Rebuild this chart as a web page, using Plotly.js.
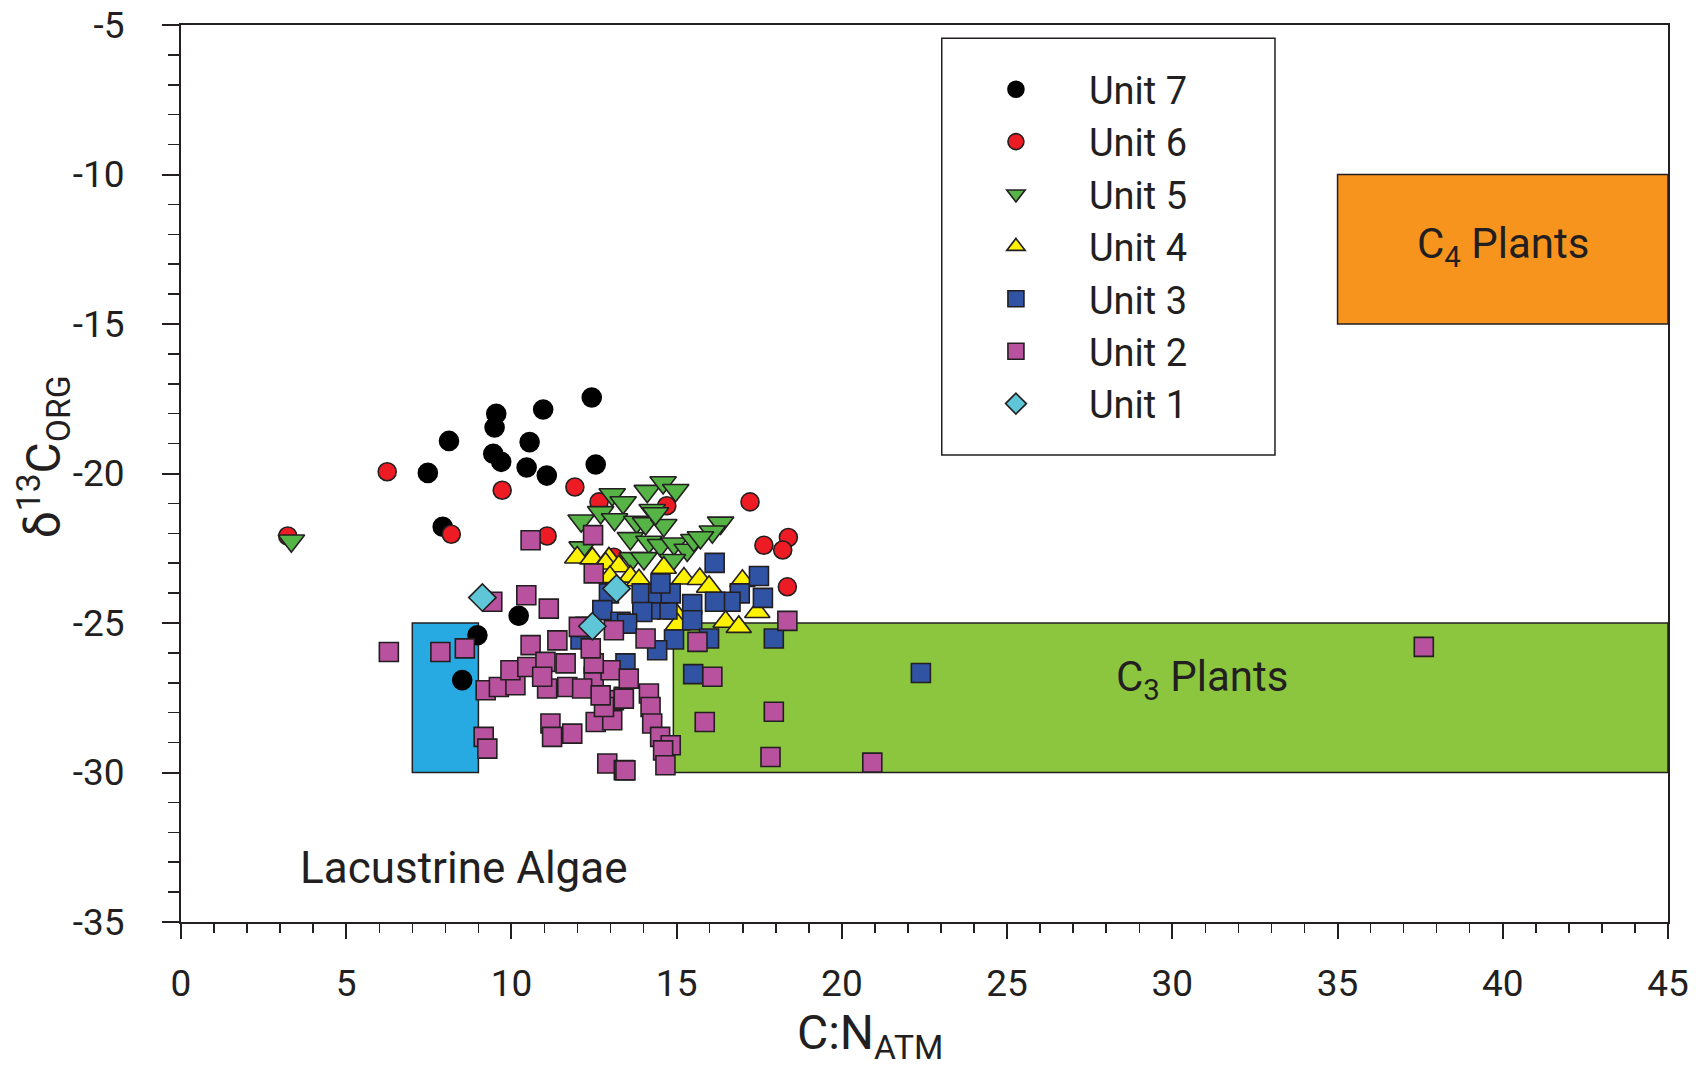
<!DOCTYPE html>
<html><head><meta charset="utf-8">
<script src="https://cdn.plot.ly/plotly-3.0.1.min.js"></script>
<style>html,body{margin:0;padding:0;background:#fff}</style>
</head><body>
<div id="chart" style="width:1696px;height:1067px"></div>
<script>
// ---- Data (C:N atomic ratio vs d13C org) ----
const unit7X = [12.43, 10.96, 9.54, 9.49, 8.11, 10.55, 9.45, 9.69, 10.46, 11.07, 12.55, 7.47, 7.92, 8.97, 10.22, 8.51];
const unit7Y = [-17.46, -17.86, -18.0, -18.46, -18.91, -18.95, -19.34, -19.61, -19.80, -20.07, -19.70, -19.98, -21.78, -25.41, -24.76, -26.91];

const unit6X = [3.23, 6.24, 9.72, 11.92, 12.65, 8.18, 11.08, 14.70, 13.10, 17.22, 17.64, 18.38, 18.21, 18.35];
const unit6Y = [-22.09, -19.94, -20.56, -20.45, -20.95, -22.03, -22.09, -21.08, -22.80, -20.95, -22.40, -22.14, -22.56, -23.79];

const unit5X = [3.34, 13.05, 13.38, 12.70, 12.11, 13.12, 14.11, 14.59, 14.97, 14.26, 13.79, 14.06, 14.61, 13.60, 14.16, 14.51, 14.92, 15.32, 12.14, 13.66, 14.87, 14.01, 15.52, 16.33, 16.08, 15.72, 14.36];
const unit5Y = [-22.25, -20.70, -20.97, -21.30, -21.58, -21.54, -20.59, -20.30, -20.56, -21.23, -21.62, -21.67, -21.73, -22.17, -22.29, -22.40, -22.35, -22.56, -22.48, -22.84, -22.90, -22.84, -22.23, -21.65, -21.95, -22.14, -21.34];

const unit4X = [11.99, 12.45, 12.95, 12.85, 13.25, 14.61, 13.60, 13.86, 12.98, 15.22, 15.70, 15.98, 16.99, 14.97, 15.03, 16.48, 16.88, 17.44];
const unit4Y = [-22.81, -22.84, -22.84, -23.01, -23.10, -23.15, -23.45, -23.57, -23.46, -23.51, -23.53, -23.79, -23.59, -24.68, -25.05, -24.96, -25.13, -24.63];

const unit3X = [16.15, 17.49, 17.61, 16.91, 16.63, 16.16, 15.47, 14.72, 14.21, 13.94, 14.44, 14.82, 14.51, 12.95, 12.75, 13.30, 13.96, 15.47, 14.92, 15.98, 17.94, 12.09, 14.41, 15.50, 13.45, 22.39, 13.50];
const unit3Y = [-22.99, -23.43, -24.16, -24.01, -24.29, -24.29, -24.37, -24.55, -24.55, -24.01, -24.01, -24.01, -23.68, -24.01, -24.57, -24.96, -24.63, -24.91, -25.55, -25.52, -25.52, -25.55, -25.91, -26.71, -26.35, -26.67, -25.02];

const unit2X = [6.29, 7.85, 8.59, 9.42, 10.45, 11.13, 9.16, 9.27, 9.22, 9.62, 10.12, 9.97, 10.48, 10.58, 11.03, 11.39, 11.64, 11.18, 11.84, 11.23, 12.90, 13.40, 12.55, 13.05, 13.10, 13.40, 12.80, 12.49, 13.00, 13.55, 12.49, 12.24, 13.10, 12.49, 14.06, 14.16, 14.21, 14.26, 11.69, 12.14, 11.08, 12.04, 10.93, 12.40, 12.70, 13.40, 15.63, 16.08, 15.85, 17.94, 17.84, 18.35, 14.50, 14.82, 14.59, 14.66, 13.45, 20.92, 37.61, 12.47, 10.58];
const unit2Y = [-25.97, -25.97, -25.85, -24.29, -24.07, -24.52, -28.81, -29.20, -27.25, -27.14, -27.08, -26.58, -26.47, -25.74, -26.30, -25.58, -26.35, -28.36, -28.70, -28.81, -29.70, -29.92, -28.31, -28.25, -27.58, -27.47, -27.81, -26.80, -26.58, -26.86, -26.35, -25.13, -25.24, -23.34, -25.52, -27.36, -27.81, -28.36, -27.14, -27.19, -27.19, -25.13, -26.80, -25.85, -27.42, -27.53, -25.63, -26.80, -28.31, -27.97, -29.48, -24.93, -28.81, -29.09, -29.26, -29.76, -29.93, -29.67, -25.80, -22.06, -22.23];

const unit1X = [9.12, 13.18, 12.45];
const unit1Y = [-24.15, -23.85, -25.11];

const unitNames = ['Unit 7', 'Unit 6', 'Unit 5', 'Unit 4', 'Unit 3', 'Unit 2', 'Unit 1'];

// End-member fields: [xmin, xmax, ymin, ymax]
const fieldNames = ['Lacustrine Algae', 'C3 Plants', 'C4 Plants'];
const fieldX0 = [7, 14.9, 35];
const fieldX1 = [9, 45, 45];
const fieldY0 = [-30, -30, -15];
const fieldY1 = [-25, -25, -10];

const xTickVals = [0, 5, 10, 15, 20, 25, 30, 35, 40, 45];
const xTickText = ['0', '5', '10', '15', '20', '25', '30', '35', '40', '45'];
const yTickVals = [-35, -30, -25, -20, -15, -10, -5];
const yTickText = ['-35', '-30', '-25', '-20', '-15', '-10', '-5'];

// ---- Styles ----
const FONT = 'Roboto, "Open Sans", sans-serif';
const INK = '#231f20';
const unitData = [[unit7X, unit7Y], [unit6X, unit6Y], [unit5X, unit5Y], [unit4X, unit4Y], [unit3X, unit3Y], [unit2X, unit2Y], [unit1X, unit1Y]];
const unitSymbols = ['circle', 'circle', 'triangle-down', 'triangle-up', 'square', 'square', 'diamond'];
const unitColors = ['#000000', '#ed1c24', '#56b447', '#fff200', '#3153a3', '#b8529f', '#5fc6d8'];
const unitSizes = [19, 18, 23, 22, 19, 19, 21];
const fieldColors = ['#27aae1', '#8cc63f', '#f7941d'];

const traces = unitNames.map((name, i) => ({
  type: 'scatter', mode: 'markers', name: name,
  x: unitData[i][0], y: unitData[i][1],
  marker: {symbol: unitSymbols[i], size: unitSizes[i], color: unitColors[i],
           line: {color: i === 0 ? '#000000' : INK, width: 1.6}},
  hoverinfo: 'x+y+name'
}));

const shapes = fieldNames.map((n, i) => ({
  type: 'rect', xref: 'x', yref: 'y', layer: 'below',
  x0: fieldX0[i], x1: fieldX1[i], y0: fieldY0[i], y1: fieldY1[i],
  fillcolor: fieldColors[i], line: {color: INK, width: 1.5}
}));
// legend frame
shapes.push({type: 'rect', xref: 'paper', yref: 'paper', layer: 'above',
  x0: 0.5116, x1: 0.7357, y0: 0.5206, y1: 0.9852,
  fillcolor: 'rgba(0,0,0,0)', line: {color: INK, width: 1.5}});

const annotations = [
  {xref: 'x', yref: 'y', x: 40, y: -12.4, text: 'C<sub>4</sub> Plants', showarrow: false,
   font: {family: FONT, size: 42, color: INK}},
  {xref: 'x', yref: 'y', x: 30.9, y: -26.9, text: 'C<sub>3</sub> Plants', showarrow: false,
   font: {family: FONT, size: 42, color: INK}},
  {xref: 'x', yref: 'y', x: 8.56, y: -33.2, text: 'Lacustrine Algae', showarrow: false,
   font: {family: FONT, size: 44, color: INK}},
  {xref: 'paper', yref: 'paper', x: 0.4633, y: -0.089, yanchor: 'top', xanchor: 'center',
   text: 'C:N<sub>ATM</sub>', showarrow: false, font: {family: FONT, size: 48, color: INK}},
  {xref: 'paper', yref: 'paper', x: -0.0928, y: 0.518, xanchor: 'center', yanchor: 'middle', textangle: -90,
   text: 'δ<sup>13</sup>C<sub>ORG</sub>', showarrow: false, font: {family: FONT, size: 48, color: INK}}
];

const axisCommon = {
  showgrid: false, zeroline: false, showline: true, linecolor: INK, linewidth: 2, mirror: true,
  ticks: 'outside', tickcolor: INK, tickwidth: 2, tickmode: 'array',
  tickfont: {family: FONT, size: 37, color: INK}
};

const layout = {
  width: 1696, height: 1067,
  margin: {l: 181, r: 28, t: 25, b: 145},
  paper_bgcolor: '#ffffff', plot_bgcolor: '#ffffff',
  font: {family: FONT, color: INK},
  xaxis: Object.assign({}, axisCommon, {
    range: [0, 45], tickvals: xTickVals, ticktext: xTickText, ticklen: 15, ticklabelstandoff: 13,
    minor: {dtick: 1, tick0: 0, ticks: 'outside', ticklen: 9, tickwidth: 1.5, tickcolor: INK, showgrid: false}
  }),
  yaxis: Object.assign({}, axisCommon, {
    range: [-35, -5], tickvals: yTickVals, ticktext: yTickText, ticklen: 17, ticklabelstandoff: 30,
    minor: {dtick: 1, tick0: -35, ticks: 'outside', ticklen: 11, tickwidth: 1.5, tickcolor: INK, showgrid: false}
  }),
  showlegend: true,
  legend: {x: 0.5124, y: 0.9632, xanchor: 'left', yanchor: 'top', bgcolor: 'rgba(0,0,0,0)',
    borderwidth: 0, itemwidth: 136, font: {family: FONT, size: 38, color: INK}, tracegroupgap: 0},
  shapes: shapes,
  annotations: annotations
};

Plotly.newPlot('chart', traces, layout, {displayModeBar: false, staticPlot: true});
</script>
</body></html>
